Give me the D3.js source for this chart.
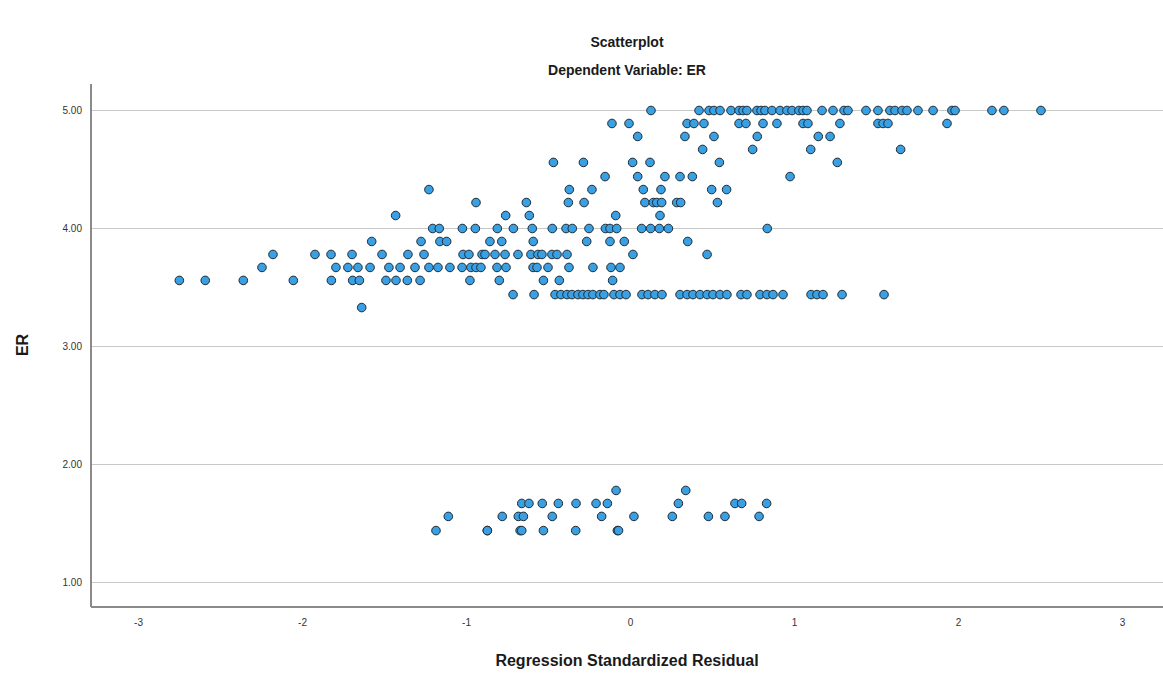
<!DOCTYPE html>
<html>
<head>
<meta charset="utf-8">
<script src="https://cdn.jsdelivr.net/npm/d3@7"></script>
<style>
  body { margin: 0; background: #fff; }
  svg { display: block; font-family: "Liberation Sans", Arial, sans-serif; }
</style>
</head>
<body>
<svg width="1163" height="680"></svg>
<script>

const erLevels = [5.00, 4.89, 4.78, 4.67, 4.56, 4.44, 4.33, 4.22, 4.11, 4.00,
    3.89, 3.78, 3.67, 3.56, 3.44, 3.33, 1.78, 1.67, 1.56, 1.44];

const residuals = [
    [0.128, 0.421, 0.482, 0.512, 0.549, 0.616, 0.665, 0.689, 0.713, 0.774, 0.799, 0.823,
     0.866, 0.915, 0.957, 0.988, 1.03, 1.055, 1.079, 1.171, 1.238, 1.305, 1.329, 1.439,
     1.512, 1.585, 1.616, 1.659, 1.689, 1.756, 1.848, 1.963, 1.982, 2.207, 2.28, 2.506],
    [-0.11, -0.006, 0.348, 0.39, 0.451, 0.665, 0.707, 0.811, 0.896, 1.055, 1.085, 1.28,
     1.512, 1.543, 1.573, 1.933],
    [0.047, 0.335, 0.512, 0.776, 1.148, 1.22],
    [0.443, 0.748, 1.102, 1.65],
    [-0.467, -0.284, 0.016, 0.122, 0.545, 1.264],
    [-0.152, 0.047, 0.213, 0.305, 0.38, 0.976],
    [-1.226, -0.37, -0.232, 0.081, 0.189, 0.498, 0.589],
    [-0.939, -0.632, -0.376, -0.28, 0.091, 0.142, 0.163, 0.193, 0.285, 0.309, 0.533],
    [-1.429, -0.758, -0.614, -0.087, 0.183],
    [-1.203, -1.163, -1.022, -0.943, -0.809, -0.711, -0.596, -0.474, -0.39, -0.352, -0.25,
     -0.15, -0.122, -0.081, 0.071, 0.126, 0.179, 0.234, 0.837],
    [-1.575, -1.274, -1.159, -1.118, -0.854, -0.782, -0.59, -0.264, -0.122, -0.035, 0.352],
    [-2.177, -1.921, -1.823, -1.695, -1.512, -1.354, -1.256, -1.018, -0.982, -0.902, -0.884,
     -0.823, -0.762, -0.683, -0.604, -0.561, -0.537, -0.476, -0.445, -0.384, 0.018, 0.47],
    [-2.244, -1.793, -1.72, -1.659, -1.585, -1.47, -1.402, -1.311, -1.226, -1.171, -1.098,
     -1.024, -0.97, -0.939, -0.909, -0.811, -0.756, -0.591, -0.567, -0.5, -0.372, -0.226,
     -0.116, -0.061],
    [-2.748, -2.59, -2.358, -2.053, -1.821, -1.691, -1.65, -1.488, -1.427, -1.358, -1.28,
     -0.976, -0.797, -0.528, -0.431, -0.106],
    [-0.713, -0.585, -0.457, -0.421, -0.384, -0.354, -0.317, -0.287, -0.256, -0.226, -0.183,
     -0.159, -0.098, -0.061, -0.024, 0.073, 0.11, 0.152, 0.195, 0.305, 0.348, 0.384, 0.427,
     0.47, 0.506, 0.549, 0.591, 0.677, 0.713, 0.793, 0.835, 0.872, 0.933, 1.104, 1.14,
     1.177, 1.293, 1.549],
    [-1.636],
    [-0.085, 0.34],
    [-0.66, -0.616, -0.535, -0.437, -0.329, -0.207, -0.138, 0.295, 0.64, 0.681, 0.833],
    [-1.108, -0.779, -0.681, -0.65, -0.474, -0.173, 0.024, 0.258, 0.478, 0.579, 0.787],
    [-1.183, -0.87, -0.87, -0.67, -0.66, -0.528, -0.331, -0.077, -0.07]
];

const xTicks = [-3, -2, -1, 0, 1, 2, 3];
const yTicks = [1, 2, 3, 4, 5];

const points = [];
erLevels.forEach((er, i) => {
    residuals[i].forEach((r) => points.push({ r: r, er: er }));
});

const svg = d3.select("svg");

const plotLeft = 91, plotRight = 1163, plotTop = 84, plotBottom = 607;

const xScale = d3.scaleLinear().domain([-3, 3]).range([138, 1122]);
const yScale = d3.scaleLinear().domain([1, 5]).range([582.5, 110.5]);

// gridlines
svg.selectAll(".grid")
    .data(yTicks)
    .enter()
    .append("line")
    .attr("class", "grid")
    .attr("x1", plotLeft)
    .attr("x2", plotRight)
    .attr("y1", (d) => yScale(d))
    .attr("y2", (d) => yScale(d))
    .attr("stroke", "#c8c8c8")
    .attr("stroke-width", 1);

// axes
const yAxis = svg.append("g")
    .attr("transform", `translate(${plotLeft},0)`)
    .call(d3.axisLeft(yScale).tickValues(yTicks).tickFormat(d3.format(".2f")).tickSize(0).tickPadding(9));
yAxis.select(".domain").remove();
yAxis.selectAll("text").attr("font-size", 10).attr("fill", "#333")
    .attr("font-family", "Liberation Sans, Arial, sans-serif");

const xAxis = svg.append("g")
    .attr("transform", `translate(0,${plotBottom})`)
    .call(d3.axisBottom(xScale).tickValues(xTicks).tickFormat((d) => String(d)).tickSize(0).tickPadding(12));
xAxis.select(".domain").remove();
xAxis.selectAll("text").attr("font-size", 10).attr("fill", "#333")
    .attr("font-family", "Liberation Sans, Arial, sans-serif");

svg.append("line")
    .attr("x1", plotLeft).attr("x2", plotLeft)
    .attr("y1", plotTop).attr("y2", plotBottom)
    .attr("stroke", "#8a8a8a").attr("stroke-width", 2);
svg.append("line")
    .attr("x1", plotLeft).attr("x2", plotRight)
    .attr("y1", plotBottom).attr("y2", plotBottom)
    .attr("stroke", "#8a8a8a").attr("stroke-width", 2);

// points
svg.selectAll(".dot")
    .data(points)
    .enter()
    .append("circle")
    .attr("class", "dot")
    .attr("cx", (d) => xScale(d.r))
    .attr("cy", (d) => yScale(d.er))
    .attr("r", 4.3)
    .attr("fill", "#3aa0e4")
    .attr("stroke", "#1e2a33")
    .attr("stroke-width", 1);

// titles
svg.append("text")
    .attr("x", 627).attr("y", 47)
    .attr("text-anchor", "middle")
    .attr("font-size", 14).attr("font-weight", "bold").attr("fill", "#1a1a1a")
    .text("Scatterplot");

svg.append("text")
    .attr("x", 627).attr("y", 75)
    .attr("text-anchor", "middle")
    .attr("font-size", 14).attr("font-weight", "bold").attr("fill", "#1a1a1a")
    .text("Dependent Variable: ER");

svg.append("text")
    .attr("x", 627).attr("y", 666)
    .attr("text-anchor", "middle")
    .attr("font-size", 16).attr("font-weight", "bold").attr("fill", "#1a1a1a")
    .text("Regression Standardized Residual");

svg.append("text")
    .attr("transform", "translate(28,345) rotate(-90)")
    .attr("text-anchor", "middle")
    .attr("font-size", 16).attr("font-weight", "bold").attr("fill", "#1a1a1a")
    .text("ER");

</script>
</body>
</html>
